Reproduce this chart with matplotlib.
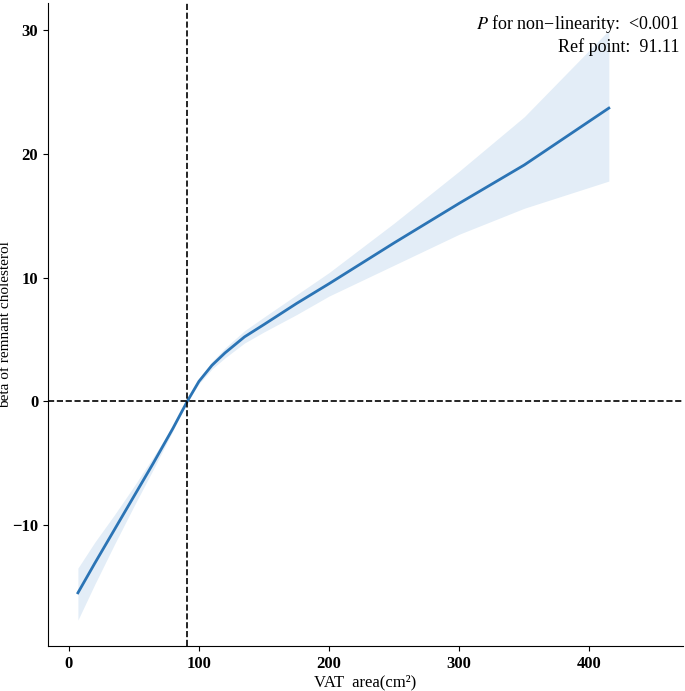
import matplotlib
matplotlib.use("Agg")
import matplotlib.pyplot as plt
import numpy as np

vat = [7, 20, 35, 50, 65, 80, 91.11, 100, 110, 120, 135, 150, 175, 200, 250, 300, 350, 415]
beta = [-15.5, -13.1, -10.4, -7.7, -5.0, -2.2, 0.0, 1.6, 2.9, 3.9, 5.2, 6.2, 7.9, 9.5, 12.8, 16.0, 19.1, 23.7]
lower = [-17.7, -14.8, -11.6, -8.5, -5.5, -2.4, 0.0, 1.4, 2.6, 3.5, 4.7, 5.6, 7.0, 8.5, 11.0, 13.5, 15.6, 17.8]
upper = [-13.5, -11.4, -9.2, -6.9, -4.5, -2.0, 0.0, 1.8, 3.2, 4.3, 5.7, 6.8, 8.6, 10.4, 14.4, 18.6, 23.0, 30.0]
ref_point = 91.11

plt.rcParams["font.family"] = "Liberation Serif"
plt.rcParams["mathtext.fontset"] = "stix"
fig = plt.figure(figsize=(6.85, 6.91), dpi=100)
ax = fig.add_axes([48/685, 45/691, (683-48)/685, (688-45)/691])
ax.fill_between(vat, lower, upper, color="#dce9f5", alpha=0.8, linewidth=0)
ax.plot(vat, beta, color="#2b74b5", lw=2)
ax.axvline(ref_point, color="black", ls="--", lw=1.2)
ax.axhline(0, color="black", ls="--", lw=1.2)
ax.set_xlim(-16, 472)
ax.set_ylim(-19.8, 32.2)
ax.set_xticks([0, 100, 200, 300, 400])
ax.set_yticks([-10, 0, 10, 20, 30])
for s in ["top", "right"]:
    ax.spines[s].set_visible(False)
ax.tick_params(labelsize=12)
for t in ax.get_xticklabels() + ax.get_yticklabels():
    t.set_fontweight("bold")
ax.set_xlabel("VAT  area(cm²)", fontsize=12, labelpad=2)
ax.set_ylabel("beta of remnant cholesterol", fontsize=11)
ax.yaxis.set_label_coords(-(48 - 12) / 635, 0.5)
ax.text(0.995, 0.985, "$\\mathit{P}$ for non\u2212linearity:  <0.001", transform=ax.transAxes,
        ha="right", va="top", fontsize=13)
ax.text(0.995, 0.945, "Ref point:  91.11", transform=ax.transAxes,
        ha="right", va="top", fontsize=13)
fig.savefig("out.png", dpi=100)
